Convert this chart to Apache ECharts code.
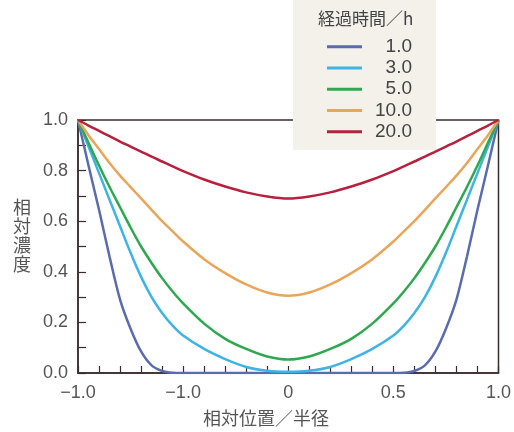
<!DOCTYPE html>
<html><head><meta charset="utf-8">
<script src="https://cdn.jsdelivr.net/npm/echarts@6/dist/echarts.min.js"></script>
<style>html,body{margin:0;padding:0;background:#fff}#c{width:514px;height:432px}</style>
</head><body><div id="c"></div>
<script>
var xs = [-1,-0.95,-0.9,-0.85,-0.8,-0.75,-0.7,-0.65,-0.6,-0.55,-0.5,-0.4,-0.3,-0.2,-0.1,0,0.1,0.2,0.3,0.4,0.5,0.55,0.6,0.65,0.7,0.75,0.8,0.85,0.9,0.95,1];
var h1  = [1,0.82,0.645,0.46,0.29,0.175,0.085,0.03,0.008,0.001,0,0,0,0,0,0,0,0,0,0,0,0.001,0.008,0.03,0.085,0.175,0.29,0.46,0.645,0.82,1];
var h3  = [1,0.895,0.79,0.685,0.58,0.475,0.38,0.3,0.237,0.187,0.148,0.095,0.055,0.024,0.009,0.005,0.009,0.024,0.055,0.095,0.148,0.187,0.237,0.3,0.38,0.475,0.58,0.685,0.79,0.895,1];
var h5  = [1,0.91,0.82,0.735,0.655,0.575,0.5,0.435,0.375,0.322,0.275,0.195,0.135,0.095,0.065,0.053,0.065,0.095,0.135,0.195,0.275,0.322,0.375,0.435,0.5,0.575,0.655,0.735,0.82,0.91,1];
var h10 = [1,0.94,0.885,0.83,0.78,0.735,0.69,0.645,0.6,0.56,0.52,0.45,0.395,0.35,0.318,0.305,0.318,0.35,0.395,0.45,0.52,0.56,0.6,0.645,0.69,0.735,0.78,0.83,0.885,0.94,1];
var h20 = [1,0.978,0.957,0.936,0.915,0.895,0.875,0.855,0.836,0.817,0.798,0.765,0.737,0.714,0.698,0.69,0.698,0.714,0.737,0.765,0.798,0.817,0.836,0.855,0.875,0.895,0.915,0.936,0.957,0.978,1];
var seriesNames = ['1.0','3.0','5.0','10.0','20.0'];
var seriesColors = ['#5a6cae','#3fb3e3','#2ea84f','#e9a559','#b5213f'];
var xTickValues = [-1,-0.5,0,0.5,1];
var xTickLabels = ['\u22121.0','\u22121.0','0','0.5','1.0'];
var legendTitle = '経過時間／h';
var xName = '相対位置／半径';
var yName = '相対濃度';

var all = [h1,h3,h5,h10,h20];
function pairs(v){ return xs.map(function(x,i){return [x,v[i]];}); }
var axisCol = '#3b2c2c';
var lblCol = '#555';
var chart = echarts.init(document.getElementById('c'));
chart.setOption({
  animation:false,
  grid:{left:78,right:11,top:120,bottom:59,show:true,borderColor:axisCol,borderWidth:1.5,backgroundColor:'transparent'},
  xAxis:{type:'value',min:-1,max:1,interval:0.5,
    axisLine:{onZero:false,lineStyle:{color:axisCol,width:1.5}},
    axisTick:{inside:true,length:7,lineStyle:{color:axisCol,width:1.2}},
    minorTick:{show:true,splitNumber:5,length:7,lineStyle:{color:axisCol,width:1.2}},
    splitLine:{show:false},
    axisLabel:{showMinLabel:true,showMaxLabel:true,margin:11,color:lblCol,fontSize:18,fontFamily:'Liberation Sans',
      formatter:function(v){var i=xTickValues.indexOf(Math.round(v*10)/10);return i>=0?xTickLabels[i]:'';}}
  },
  yAxis:{type:'value',min:0,max:1,interval:0.2,
    axisLine:{onZero:false,lineStyle:{color:axisCol,width:1.5}},
    axisTick:{inside:true,length:8,lineStyle:{color:axisCol,width:1.2}},
    minorTick:{show:true,splitNumber:2,length:8,lineStyle:{color:axisCol,width:1.2}},
    splitLine:{show:false},
    axisLabel:{margin:10,color:lblCol,fontSize:18,fontFamily:'Liberation Sans',formatter:function(v){return v.toFixed(1);}}
  },
  legend:{orient:'vertical',left:327,top:36,padding:0,z:20,icon:'rect',itemWidth:35,itemHeight:3,itemGap:0,
    data:seriesNames,
    formatter:function(n){return '{a|'+n+'}';},
    textStyle:{color:'#444',fontSize:19,fontFamily:'Liberation Sans',lineHeight:21.3,
      rich:{a:{width:45,align:'right',fontSize:19,lineHeight:21.3,fontFamily:'Liberation Sans',color:'#444'}}}
  },
  graphic:[
    {type:'rect',z:10,shape:{x:293,y:-2,width:143,height:152},style:{fill:'#f3f1ea'}},
    {type:'text',z:21,left:318,top:10,style:{text:legendTitle,fontSize:17,fontFamily:'Noto Sans CJK JP',fill:'#444'}},
    {type:'text',z:21,left:203,top:409,style:{text:xName,fontSize:18,fontFamily:'Noto Sans CJK JP',fill:'#555'}},
    {type:'text',z:21,left:13,top:198,style:{text:yName.split('').join('\n'),fontSize:18,lineHeight:19,fontFamily:'Noto Sans CJK JP',fill:'#555'}}
  ],
  series:all.map(function(v,i){return {name:seriesNames[i],type:'line',data:pairs(v),showSymbol:false,smooth:0.3,
    lineStyle:{color:seriesColors[i],width:2.5},itemStyle:{color:seriesColors[i]},z:2};})
});
</script></body></html>
